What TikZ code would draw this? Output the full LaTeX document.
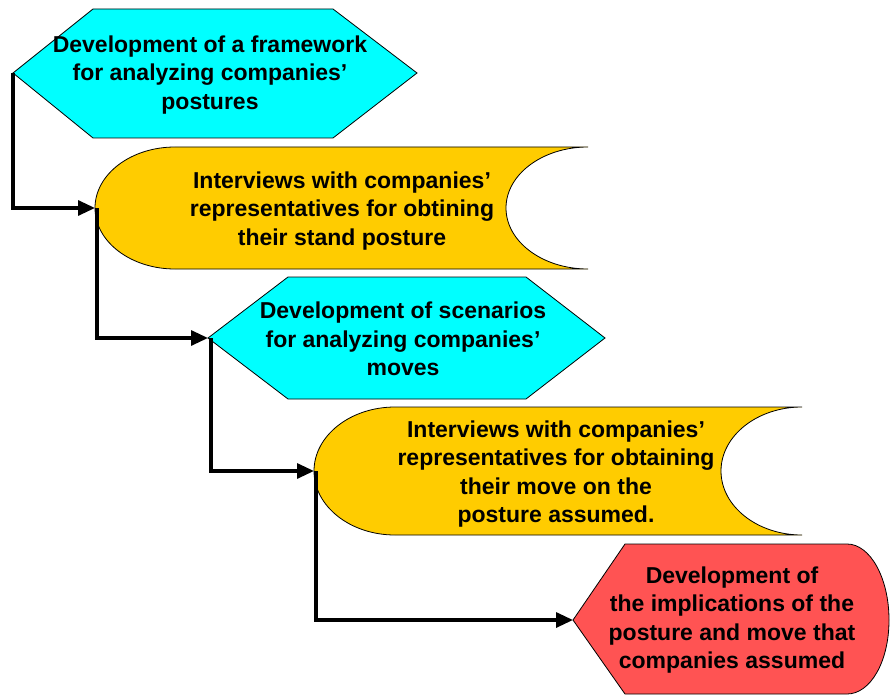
\documentclass[tikz,border=0pt]{standalone}
\usepackage{fontspec}
\setmainfont{Liberation Sans}
\usetikzlibrary{arrows.meta}
\definecolor{hexcyan}{HTML}{00FFFF}
\definecolor{gold}{HTML}{FFCC00}
\definecolor{redbox}{HTML}{FF5353}
\tikzset{
  shapeborder/.style={draw=black, line width=0.8pt, line join=miter},
  label/.style={align=center, inner sep=0pt, font=\fontsize{23}{28.5}\selectfont\bfseries},
  conn/.style={line width=3.2pt, -{Triangle[length=17pt,width=15pt]}}
}
\begin{document}
\begin{tikzpicture}[x=1pt, y=-1pt]
\useasboundingbox (0,0) rectangle (890,695);
% shape 1: hexagon
\draw[shapeborder, fill=hexcyan] (13,73) -- (93,9) -- (333,9) -- (417,73) -- (333,138) -- (93,138) -- cycle;
% shape 2: stored data
\draw[shapeborder, fill=gold] (175,147) -- (588,147)
  .. controls (542.7,147) and (506,174.3) .. (506,208)
  .. controls (506,241.7) and (542.7,269) .. (588,269)
  -- (175,269)
  .. controls (130.8,269) and (95,241.7) .. (95,208)
  .. controls (95,174.3) and (130.8,147) .. (175,147) -- cycle;
% shape 3: hexagon
\draw[shapeborder, fill=hexcyan] (208,338) -- (288,277) -- (526,277) -- (605,338) -- (526,399) -- (288,399) -- cycle;
% shape 4: stored data
\draw[shapeborder, fill=gold] (395,407) -- (802,407)
  .. controls (757.3,407) and (721,435.7) .. (721,471)
  .. controls (721,506.3) and (757.3,535) .. (802,535)
  -- (395,535)
  .. controls (350.3,535) and (314,506.3) .. (314,471)
  .. controls (314,435.7) and (350.3,407) .. (395,407) -- cycle;
% shape 5: display
\draw[shapeborder, fill=redbox] (573,620) -- (625,544) -- (847,544)
  .. controls (870.2,544) and (889,578) .. (889,620)
  .. controls (889,662) and (870.2,694) .. (847,694)
  -- (625,694) -- cycle;

% named anchor points
\coordinate (p1) at (13,73);
\coordinate (p2) at (95,208);
\coordinate (p3) at (208,338);
\coordinate (p4) at (314,471);
\coordinate (p5) at (573,620);
\coordinate (v2) at (97,208);
\coordinate (v3) at (211,338);
\coordinate (v4) at (316,471);

% texts
\node[label] (t1) at (210,75) {Development of a framework\\for analyzing companies’\\postures};
\node[label] (t2) at (342,211) {Interviews with companies’\\representatives for obtining\\their stand posture};
\node[label] (t3) at (403,339) {Development of scenarios\\for analyzing companies’\\moves};
\node[label] (t4) at (556,474) {Interviews with companies’\\representatives for obtaining\\their move on the\\posture assumed.};
\node[label] (t5) at (732,620) {Development of\\the implications of the\\posture and move that\\companies assumed};

% connectors
\draw[conn] (p1) |- (p2);
\draw[conn] (v2) |- (p3);
\draw[conn] (v3) |- (p4);
\draw[conn] (v4) |- (p5);
\end{tikzpicture}
\end{document}
